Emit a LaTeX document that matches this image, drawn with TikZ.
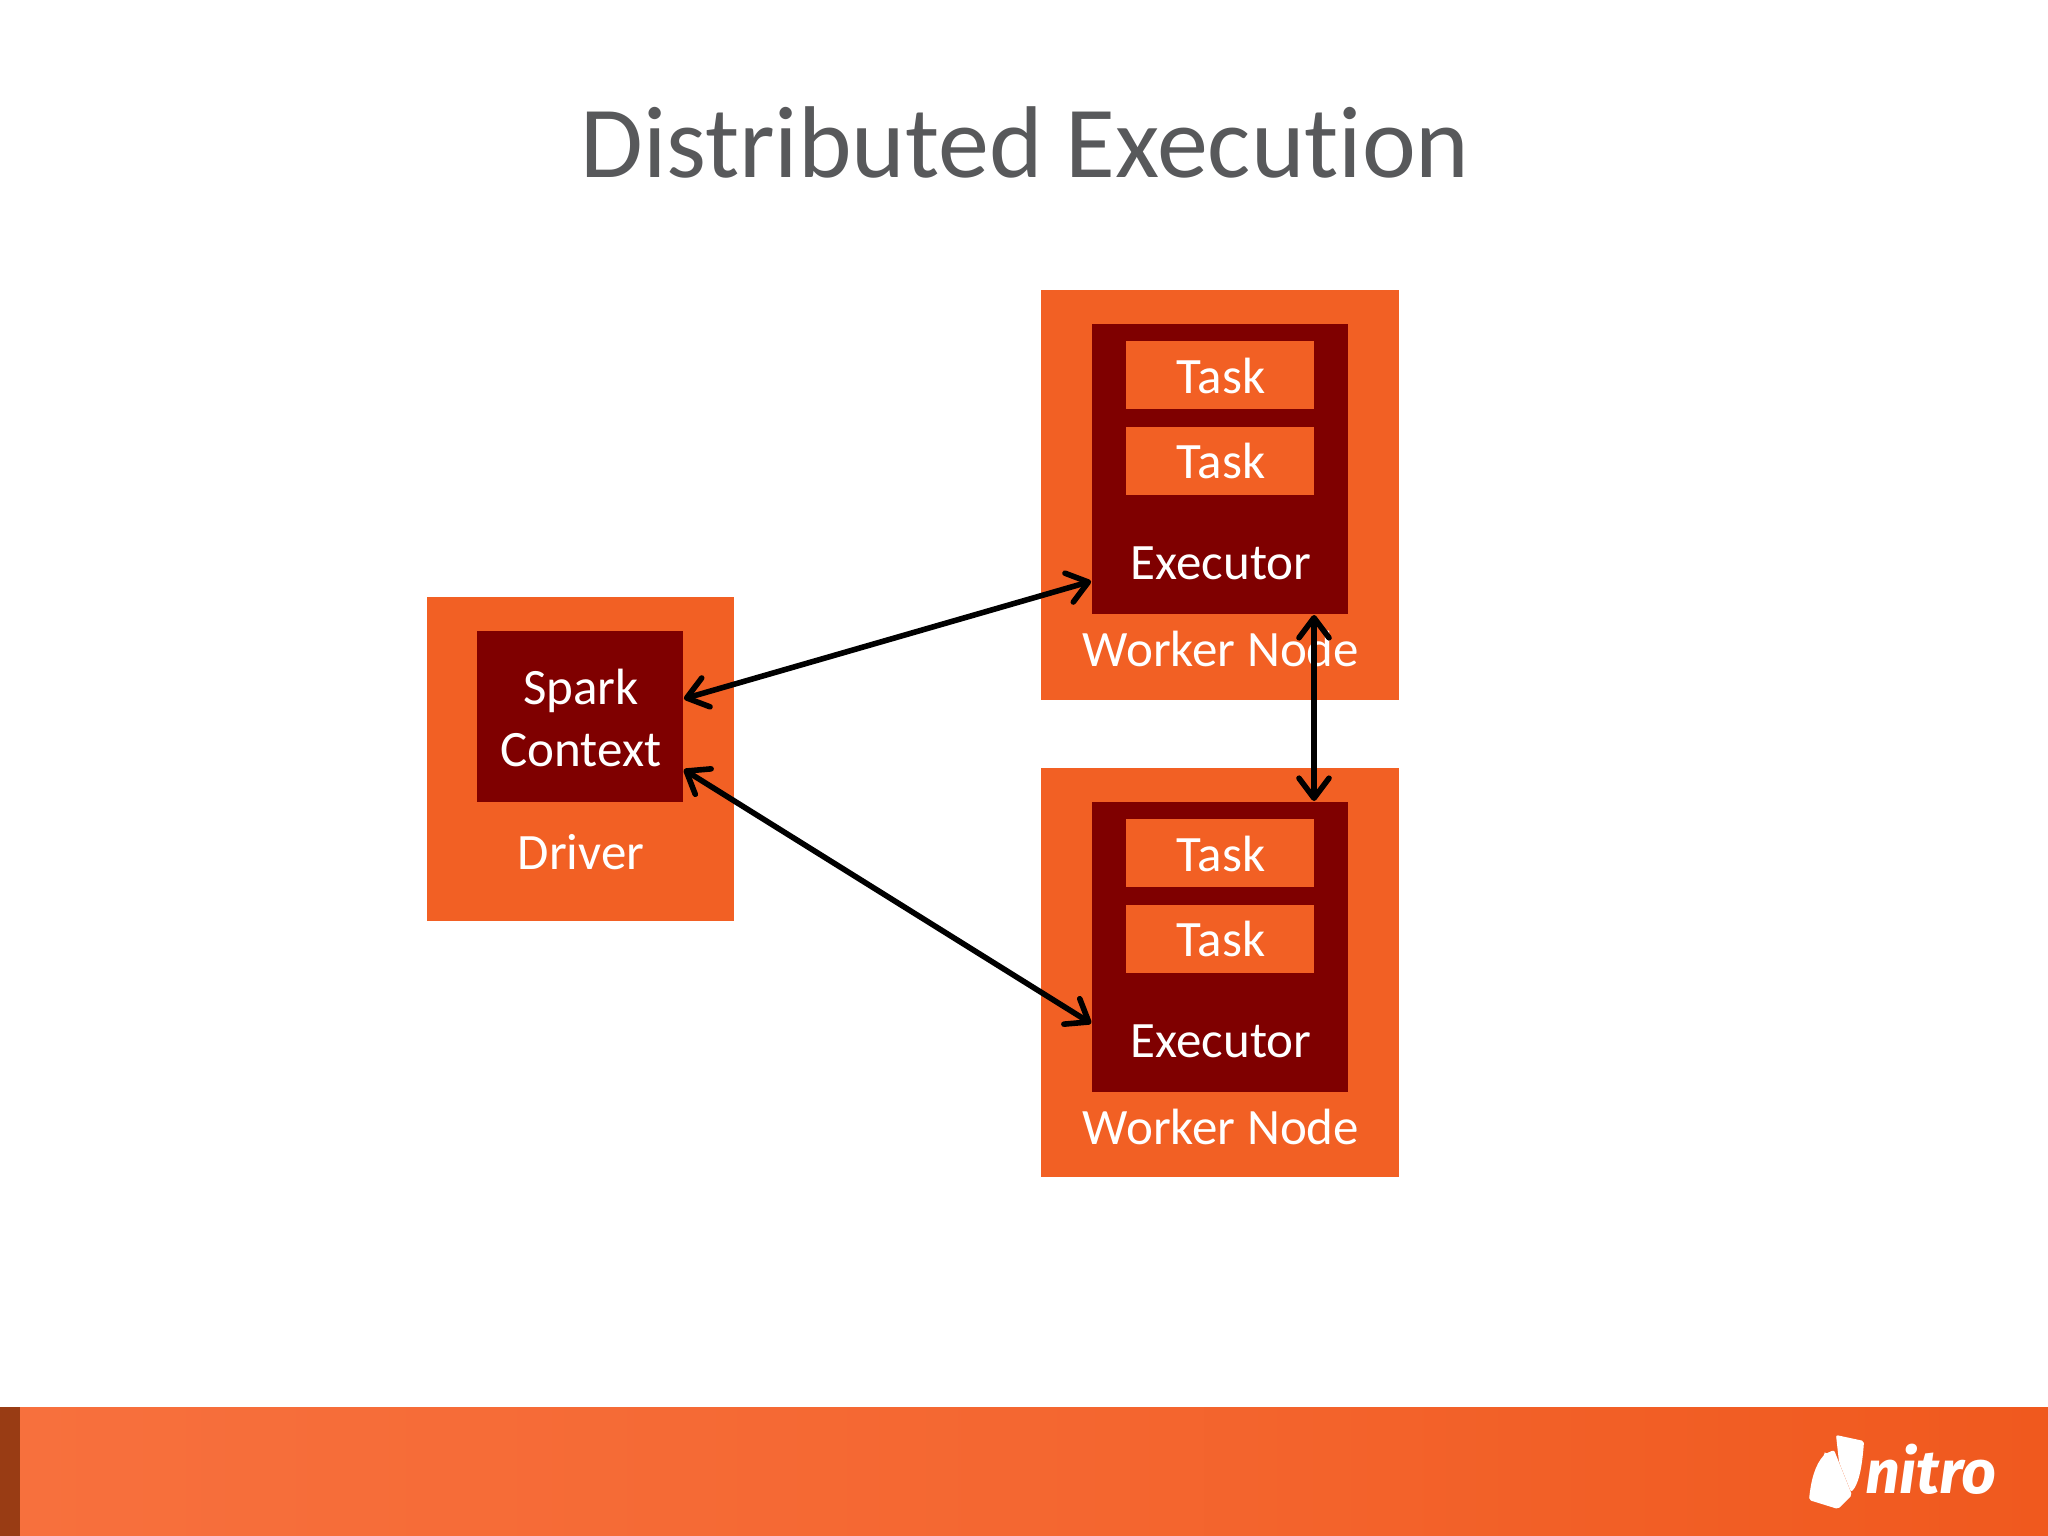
\documentclass[tikz,border=0pt]{standalone}
\usepackage{fontspec}
\setmainfont{Carlito}[Ligatures=CommonOff]
\newfontfamily\logofont{Fira Sans}
\usetikzlibrary{arrows.meta,shadings}
\definecolor{orangeA}{HTML}{F26024}
\definecolor{darkred}{HTML}{7F0000}
\definecolor{titlegrey}{HTML}{58595B}
\definecolor{barL}{HTML}{F7703D}
\definecolor{barR}{HTML}{F0591E}
\definecolor{barStrip}{HTML}{993C14}
\tikzset{
  x=1pt,y=-1pt,
  box/.style={rectangle,inner sep=0pt,outer sep=0pt,fill=#1},
  lab/.style={inner sep=0pt,outer sep=0pt,text=white,font=\fontsize{51}{60}\selectfont,align=center},
  link/.style={line width=5.6pt,black,{Straight Barb[length=20pt,width=30pt,line cap=round,round]}-{Straight Barb[length=20pt,width=30pt,line cap=round,round]},shorten <=1pt,shorten >=1pt},
}
\newcommand{\boxat}[6]{\node[box=#6,minimum width=#4 pt - #2 pt,minimum height=#5 pt - #3 pt,anchor=north west] (#1) at (#2,#3) {};}
\begin{document}
\begin{tikzpicture}
\useasboundingbox (0,0) rectangle (2048,1536);
\fill[white] (0,0) rectangle (2048,1536);
% footer band
\node[rectangle,inner sep=0pt,outer sep=0pt,minimum width=2028pt,minimum height=129pt,anchor=north west,left color=barL,right color=barR,middle color=barL!60!barR] (band) at (20,1407) {};
\node[box=barStrip,minimum width=20pt,minimum height=129pt,anchor=north west] (strip) at (0,1407) {};
% title
\node[inner sep=0pt,text=titlegrey,font=\fontsize{102}{116}\selectfont,anchor=base] (title) at (1025,178) {Distributed Execution};
% driver
\boxat{driver}{427}{597}{734}{921}{orangeA}
\boxat{sc}{477}{631}{683}{802}{darkred}
\node[lab,anchor=base] (sparkt) at (581,704) {Spark};
\node[lab,anchor=base] (contextt) at (581,766) {Context};
\node[lab,anchor=base] (drivert) at (581,869) {Driver};
% worker 1
\boxat{w1}{1041}{290}{1399}{700}{orangeA}
\boxat{e1}{1092}{324}{1348}{614}{darkred}
\boxat{t1a}{1126}{341}{1314}{409}{orangeA}
\boxat{t1b}{1126}{427}{1314}{495}{orangeA}
\node[lab,anchor=base] (t1at) at (1221,393) {Task};
\node[lab,anchor=base] (t1bt) at (1221,478) {Task};
\node[lab,anchor=base] (e1t) at (1221,579) {Executor};
\node[lab,anchor=base] (w1t) at (1221,666) {Worker Node};
% worker 2
\boxat{w2}{1041}{768}{1399}{1177}{orangeA}
\boxat{e2}{1092}{802}{1348}{1092}{darkred}
\boxat{t2a}{1126}{819}{1314}{887}{orangeA}
\boxat{t2b}{1126}{905}{1314}{973}{orangeA}
\node[lab,anchor=base] (t2at) at (1221,871) {Task};
\node[lab,anchor=base] (t2bt) at (1221,956) {Task};
\node[lab,anchor=base] (e2t) at (1221,1057) {Executor};
\node[lab,anchor=base] (w2t) at (1221,1144) {Worker Node};
% connectors
\draw[link] ([yshift=17.5pt]sc.east) -- ([yshift=-112pt]e1.west);
\draw[link] ([yshift=-52.5pt]sc.east) -- ([yshift=-77pt]e2.west);
\draw[link] (e1.south -| t1a.east) -- (e2.north -| t2a.east);
% logo
\fill[white,rounded corners=2pt] (1836,1435) -- (1864,1441) .. controls (1862,1470) and (1858,1485) .. (1851,1492) -- (1839,1462) -- cycle;
\fill[white,rounded corners=2pt] (1825,1454) -- (1834,1450) -- (1852,1495) -- (1838,1509) -- (1809,1500) .. controls (1811,1480) and (1815,1465) .. (1825,1454) -- cycle;
\node[inner sep=0pt,text=white,font=\logofont\fontsize{61}{61}\selectfont\bfseries\itshape,anchor=base west] (logotext) at (1865,1493) {nitro};
\end{tikzpicture}
\end{document}
